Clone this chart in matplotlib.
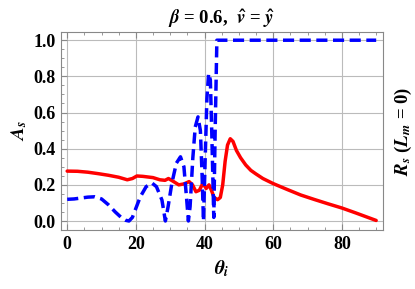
import matplotlib
matplotlib.use('Agg')
import matplotlib.pyplot as plt
from matplotlib.ticker import MultipleLocator

plt.rcParams['font.family'] = 'Liberation Serif'
plt.rcParams['font.weight'] = 'bold'
plt.rcParams['mathtext.fontset'] = 'stix'

# Rs curve (red, solid)
theta_r = [0, 3, 6, 9, 12, 15, 17.5, 19, 20.3, 22, 25, 27, 28.5, 29.5, 31, 32.5, 34,
           35.5, 36.5, 37.5, 38.5, 39.5, 40.5, 41.3, 42, 42.8, 43.8, 44.6, 45.3, 46,
           46.7, 47.5, 48.3, 49.3, 50.5, 52, 53.5, 55, 57, 60, 64, 68, 72, 76, 80,
           84, 88, 90]
rs = [0.276, 0.275, 0.27, 0.262, 0.253, 0.242, 0.228, 0.235, 0.249, 0.247, 0.24,
      0.228, 0.225, 0.235, 0.218, 0.2, 0.205, 0.218, 0.2, 0.162, 0.17, 0.208, 0.18,
      0.2, 0.17, 0.13, 0.118, 0.13, 0.2, 0.33, 0.42, 0.455, 0.44, 0.39, 0.35, 0.31,
      0.28, 0.26, 0.235, 0.207, 0.175, 0.144, 0.119, 0.095, 0.072, 0.045, 0.017, 0.003]

# As curve (blue, dashed)
theta_b = [0, 2, 4, 6, 8, 10, 12, 14, 16, 17, 18, 19, 20, 21.3, 23, 24.7, 26, 27.6,
           28.6, 29.4, 30.5, 31.8, 33, 34, 34.8, 35.3, 35.8, 36.6, 37.3, 38.1, 38.8,
           39.3, 39.7, 40.2, 40.7, 41.2, 41.7, 42.1, 42.7, 43.1, 43.6, 45, 50, 60,
           70, 80, 90]
As = [0.12, 0.122, 0.127, 0.132, 0.134, 0.122, 0.09, 0.05, 0.015, 0.004, 0.0, 0.02,
      0.07, 0.134, 0.19, 0.21, 0.19, 0.116, 0.0, 0.08, 0.21, 0.32, 0.355, 0.3, 0.12,
      0.0, 0.08, 0.35, 0.52, 0.576, 0.5, 0.25, 0.0, 0.35, 0.68, 0.816, 0.78, 0.5,
      0.02, 0.5, 1.0, 1.0, 1.0, 1.0, 1.0, 1.0, 1.0]

fig = plt.figure(figsize=(4.15, 2.89), dpi=100)
ax = fig.add_axes([0.147, 0.204, 0.776, 0.685])

ax.plot(theta_r, rs, color='#ff0000', lw=2.5, solid_capstyle='round', zorder=3)
ax.plot(theta_b, As, color='#0000ff', lw=2.5, dashes=(3.2, 1.6), zorder=4)

ax.set_xlim(-1.8, 92)
ax.set_ylim(-0.05, 1.045)
ax.xaxis.set_major_locator(MultipleLocator(20))
ax.xaxis.set_minor_locator(MultipleLocator(5))
ax.yaxis.set_major_locator(MultipleLocator(0.2))
ax.yaxis.set_minor_locator(MultipleLocator(0.05))
ax.yaxis.set_major_formatter(matplotlib.ticker.FormatStrFormatter('%.1f'))
ax.grid(True, which='major', color='#bbbbbb', lw=0.8)

ax.tick_params(which='both', direction='in', top=True, right=True, color='#888888',
               labelsize=13, pad=4)
ax.tick_params(which='major', length=4)
ax.tick_params(which='minor', length=2)
for s in ax.spines.values():
    s.set_color('#888888')
    s.set_linewidth(0.8)

ax.set_title(r'$\boldsymbol{\beta}$ = 0.6,  $\boldsymbol{\hat{v}}$ = $\boldsymbol{\hat{y}}$',
             fontsize=13.5, fontweight='bold', pad=6)
ax.set_xlabel(r'$\boldsymbol{\theta_i}$', fontsize=14, labelpad=4)
ax.set_ylabel(r'$\boldsymbol{A_s}$', fontsize=14, labelpad=3)
ax2 = ax.twinx()
ax2.set_ylim(ax.get_ylim())
ax2.set_yticks([])
ax2.set_ylabel(r'$\boldsymbol{R_s}$ ($\boldsymbol{L_m}$ = 0)', fontsize=13.5,
               fontweight='bold', labelpad=7)
for s in ax2.spines.values():
    s.set_visible(False)

fig.savefig('out.png', dpi=100)
